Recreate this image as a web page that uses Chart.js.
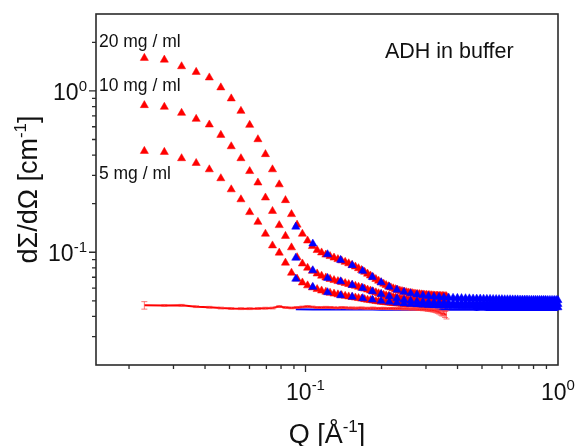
<!DOCTYPE html>
<html><head><meta charset="utf-8">
<script src="https://cdn.jsdelivr.net/npm/chart.js@4"></script>
<style>html,body{margin:0;padding:0;background:#fff}canvas{display:block}</style>
</head><body>
<canvas id="c" width="577" height="446"></canvas>
<script>
// ---------- data ----------
const qRed = [0.0230,0.0276,0.0323,0.0369,0.0416,0.0462,0.0508,0.0555,0.0601,0.0648,
 0.0694,0.0740,0.0787,0.0833,0.0880,0.0926,0.0972,0.1019,0.1065,0.1112,
 0.1158,0.1204,0.1251,0.1297,0.1344,0.1390,0.1436,0.1483,0.1529,0.1576,
 0.1622,0.1668,0.1715,0.1761,0.1808,0.1854,0.1900,0.1947,0.1993,0.2040,
 0.2086,0.2132,0.2179,0.2225,0.2272,0.2318,0.2364,0.2411,0.2457,0.2504,
 0.2550,0.2596,0.2643,0.2689,0.2736,0.2782,0.2828,0.2875,0.2921,0.2968,
 0.3014,0.3060,0.3107,0.3153,0.3200,0.3246,0.3292,0.3339,0.3385,0.3432,
 0.3478,0.3524,0.3571,0.3617];
const i20Red = [1.60,1.56,1.42,1.31,1.21,1.05,0.897,0.751,0.615,0.501,
 0.405,0.326,0.263,0.210,0.172,0.148,0.130,0.118,0.109,0.103,
 0.0995,0.0965,0.0945,0.0925,0.0905,0.0888,0.0870,0.0852,0.0833,0.0814,
 0.0795,0.0775,0.0755,0.0735,0.0716,0.0698,0.0681,0.0665,0.0650,0.0637,
 0.0625,0.0614,0.0604,0.0596,0.0589,0.0583,0.0578,0.0573,0.0569,0.0565,
 0.0562,0.0559,0.0557,0.0554,0.0552,0.0550,0.0549,0.0547,0.0546,0.0544,
 0.0543,0.0542,0.0541,0.0540,0.0539,0.0538,0.0537,0.0537,0.0536,0.0535,
 0.0535,0.0534,0.0534,0.0533];
const i10Red = [0.815,0.796,0.730,0.670,0.618,0.533,0.453,0.382,0.318,0.270,
 0.218,0.180,0.147,0.126,0.107,0.093,0.085,0.0800,0.0765,0.0737,
 0.0714,0.0696,0.0682,0.0671,0.0661,0.0652,0.0643,0.0634,0.0626,0.0618,
 0.0610,0.0602,0.0594,0.0586,0.0578,0.0570,0.0563,0.0556,0.0550,0.0544,
 0.0539,0.0534,0.0530,0.0526,0.0522,0.0519,0.0516,0.0513,0.0511,0.0509,
 0.0507,0.0505,0.0504,0.0502,0.0501,0.0500,0.0499,0.0498,0.0497,0.0496,
 0.0496,0.0495,0.0495,0.0494,0.0494,0.0493,0.0493,0.0492,0.0492,0.0491,
 0.0491,0.0490,0.0490,0.0489];
const i5Red = [0.424,0.418,0.382,0.357,0.326,0.287,0.245,0.2125,0.177,0.154,
 0.130,0.110,0.0992,0.0860,0.0745,0.0685,0.0648,0.0622,0.0604,0.0590,
 0.0578,0.0568,0.0560,0.0553,0.0547,0.0541,0.0536,0.0531,0.0527,0.0523,
 0.0519,0.0515,0.0511,0.0507,0.0504,0.0501,0.0498,0.0495,0.0493,0.0491,
 0.0489,0.0487,0.0485,0.0484,0.0482,0.0481,0.0480,0.0479,0.0478,0.0477,
 0.0476,0.0476,0.0475,0.0474,0.0474,0.0473,0.0473,0.0472,0.0472,0.0471,
 0.0471,0.0470,0.0470,0.0470,0.0469,0.0469,0.0469,0.0468,0.0468,0.0468,
 0.0467,0.0467,0.0467,0.0466];
const iBufRed = [0.0469,0.0468,0.0469,0.0460,0.0456,0.0451,0.0448,0.0447,0.0447,0.0448,
 0.0450,0.0451,0.0461,0.0455,0.0452,0.0455,0.0458,0.0461,0.0458,0.0455,
 0.0454,0.0456,0.0455,0.0453,0.0452,0.0454,0.0453,0.0451,0.0452,0.0450,
 0.0451,0.0452,0.0450,0.0449,0.0450,0.0451,0.0449,0.0448,0.0449,0.0450,
 0.0448,0.0447,0.0449,0.0448,0.0446,0.0447,0.0448,0.0446,0.0445,0.0447,
 0.0446,0.0444,0.0445,0.0446,0.0443,0.0444,0.0442,0.0443,0.0441,0.0442,
 0.0440,0.0438,0.0439,0.0436,0.0436,0.0434,0.0432,0.0428,0.0425,0.0420,
 0.0415,0.0418,0.0412,0.0410];
const errBufRed = [0.0025,0.0006,0.0006,0.0006,0.0006,0.0006,0.0006,0.0006,0.0006,0.0006,
 0.0006,0.0006,0.0006,0.0006,0.0006,0.0006,0.0006,0.0006,0.0006,0.0006,
 0.0006,0.0006,0.0006,0.0006,0.0006,0.0006,0.0006,0.0006,0.0006,0.0006,
 0.0006,0.0006,0.0006,0.0006,0.0006,0.0006,0.0006,0.0006,0.0006,0.0006,
 0.0006,0.0006,0.0006,0.0006,0.0006,0.0006,0.0006,0.0006,0.0006,0.0006,
 0.0006,0.0006,0.0006,0.0006,0.0006,0.0006,0.0006,0.0006,0.0007,0.0007,
 0.0007,0.0008,0.0008,0.0008,0.0009,0.0009,0.0010,0.0010,0.0011,0.0012,
 0.0012,0.0015,0.0018,0.0024];

const qBlue = [0.0915,0.1069,0.1223,0.1377,0.1531,0.1685,0.1839,0.1993,0.2147,0.2301,
 0.2455,0.2609,0.2763,0.2917,0.3071,0.3225,0.3379,0.3533,0.3687,0.3841,
 0.3995,0.4149,0.4303,0.4457,0.4611,0.4765,0.4919,0.5073,0.5227,0.5381,
 0.5535,0.5689,0.5843,0.5997,0.6151,0.6305,0.6459,0.6613,0.6767,0.6921,
 0.7075,0.7229,0.7383,0.7537,0.7691,0.7845,0.7999,0.8153,0.8307,0.8461,
 0.8615,0.8769,0.8923,0.9077,0.9231,0.9385,0.9539,0.9693,0.9847,1.0000];
const i20Blue = [0.1438,0.1130,0.0970,0.0895,0.0830,0.0765,0.0702,0.0650,0.0610,0.0585,
 0.0567,0.0555,0.0546,0.0540,0.0535,0.0531,0.0528,0.0525,0.0523,0.0521,
 0.0520,0.0519,0.0518,0.0517,0.0516,0.0515,0.0515,0.0514,0.0513,0.0513,
 0.0512,0.0512,0.0511,0.0511,0.0510,0.0510,0.0510,0.0509,0.0509,0.0509,
 0.0508,0.0508,0.0508,0.0508,0.0507,0.0507,0.0507,0.0507,0.0506,0.0506,
 0.0506,0.0506,0.0506,0.0505,0.0505,0.0505,0.0505,0.0505,0.0505,0.0504];
const i10Blue = [0.0923,0.0772,0.0692,0.0659,0.0626,0.0599,0.0572,0.0550,0.0533,0.0518,
 0.0507,0.0500,0.0495,0.0492,0.0490,0.0488,0.0487,0.0486,0.0485,0.0484,
 0.0484,0.0483,0.0483,0.0482,0.0482,0.0482,0.0481,0.0481,0.0481,0.0481,
 0.0480,0.0480,0.0480,0.0480,0.0480,0.0479,0.0479,0.0479,0.0479,0.0479,
 0.0479,0.0479,0.0478,0.0478,0.0478,0.0478,0.0478,0.0478,0.0478,0.0478,
 0.0477,0.0477,0.0477,0.0477,0.0477,0.0477,0.0477,0.0477,0.0477,0.0477];
const i5Blue = [0.0684,0.0609,0.0564,0.0540,0.0529,0.0518,0.0508,0.0499,0.0492,0.0486,
 0.0481,0.0477,0.0474,0.0471,0.0469,0.0467,0.0466,0.0465,0.0464,0.0463,
 0.0463,0.0462,0.0462,0.0461,0.0461,0.0460,0.0460,0.0460,0.0459,0.0459,
 0.0459,0.0459,0.0458,0.0458,0.0458,0.0458,0.0458,0.0457,0.0457,0.0457,
 0.0457,0.0457,0.0457,0.0456,0.0456,0.0456,0.0456,0.0456,0.0456,0.0456,
 0.0456,0.0455,0.0455,0.0455,0.0455,0.0455,0.0455,0.0455,0.0455,0.0455];
const iBufBlue = [0.0443,0.0442,0.0442,0.0441,0.0441,0.0442,0.0441,0.0440,0.0440,0.0440,
 0.0440,0.0440,0.0440,0.0440,0.0440,0.0440,0.0440,0.0440,0.0440,0.0440,
 0.0440,0.0440,0.0440,0.0440,0.0440,0.0439,0.0440,0.0440,0.0439,0.0439,
 0.0440,0.0439,0.0439,0.0439,0.0440,0.0439,0.0439,0.0439,0.0439,0.0439,
 0.0439,0.0439,0.0439,0.0439,0.0439,0.0439,0.0439,0.0439,0.0439,0.0439,
 0.0439,0.0439,0.0439,0.0439,0.0439,0.0439,0.0439,0.0439,0.0439,0.0439];

const xTickLabels = [{v:0.1, base:'10', sup:'-1'}, {v:1, base:'10', sup:'0'}];
const yTickLabels = [{v:0.1, base:'10', sup:'-1'}, {v:1, base:'10', sup:'0'}];
const notes = [
  {text:'20 mg / ml', q:0.0152, i:1.87, size:17.5},
  {text:'10 mg / ml', q:0.0152, i:0.998, size:17.5},
  {text:'5 mg / ml',  q:0.0152, i:0.283, size:17.5},
  {text:'ADH in buffer', q:0.2064, i:1.59, size:21.5}
];

// ---------- drawing helpers ----------
const FONT = '"Liberation Sans", Arial, Helvetica, sans-serif';
function drawSegs(ctx, segs, x, y, align) {
  let total = 0;
  segs.forEach(s => { ctx.font = s.size + 'px ' + FONT; s.w = ctx.measureText(s.t).width; total += s.w; });
  let cx = align === 'right' ? x - total : align === 'center' ? x - total / 2 : x;
  ctx.textAlign = 'left'; ctx.textBaseline = 'alphabetic';
  segs.forEach(s => { ctx.font = s.size + 'px ' + FONT; ctx.fillText(s.t, cx, y - (s.rise || 0)); cx += s.w; });
}
function logTicks(min, max) {
  const out = [];
  for (let e = Math.floor(Math.log10(min)); e <= Math.ceil(Math.log10(max)); e++) {
    for (let m = 1; m <= 9; m++) {
      const v = m * Math.pow(10, e);
      if (v >= min * 1.0001 && v <= max * 1.0001) out.push({v, major: m === 1});
    }
  }
  return out;
}

const decor = {
  id: 'decor',
  beforeDatasetsDraw(chart) {
    const {ctx, chartArea: a, scales: {x, y}} = chart;
    ctx.save();
    ctx.strokeStyle = '#2b2b2b'; ctx.lineWidth = 1.6;
    ctx.strokeRect(a.left, a.top, a.right - a.left, a.bottom - a.top);
    ctx.lineWidth = 1.3;
    ctx.beginPath();
    logTicks(x.min, x.max).forEach(t => {
      const px = x.getPixelForValue(t.v);
      if (px < a.left + 1 || px > a.right - 1) return;
      ctx.moveTo(px, a.bottom); ctx.lineTo(px, a.bottom + (t.major ? 7 : 4));
    });
    logTicks(y.min, y.max).forEach(t => {
      const py = y.getPixelForValue(t.v);
      if (py < a.top + 1 || py > a.bottom - 1) return;
      ctx.moveTo(a.left, py); ctx.lineTo(a.left - (t.major ? 7 : 4), py);
    });
    ctx.stroke();
    ctx.fillStyle = '#111';
    xTickLabels.forEach(t => {
      drawSegs(ctx, [{t: t.base, size: 23}, {t: t.sup, size: 15, rise: 10}], x.getPixelForValue(t.v), 400, 'center');
    });
    yTickLabels.forEach(t => {
      drawSegs(ctx, [{t: t.base, size: 23}, {t: t.sup, size: 15, rise: 9}], 87, y.getPixelForValue(t.v) + 9, 'right');
    });
    // axis titles
    drawSegs(ctx, [{t: 'Q [Å', size: 27}, {t: '-1', size: 17, rise: 11}, {t: ']', size: 27}], (a.left + a.right) / 2, 443, 'center');
    ctx.save();
    ctx.translate(37, (a.top + a.bottom) / 2);
    ctx.rotate(-Math.PI / 2);
    drawSegs(ctx, [{t: 'dΣ/dΩ [cm', size: 27}, {t: '-1', size: 17, rise: 11}, {t: ']', size: 27}], 0, 0, 'center');
    ctx.restore();
    // annotations
    notes.forEach(n => {
      ctx.font = n.size + 'px ' + FONT;
      ctx.textAlign = 'left'; ctx.textBaseline = 'alphabetic';
      ctx.fillText(n.text, x.getPixelForValue(n.q), y.getPixelForValue(n.i));
    });
    ctx.restore();
  },
  afterDatasetsDraw(chart) {
    const {ctx, scales: {x, y}} = chart;
    chart.data.datasets.forEach(ds => {
      if (!ds.errors) return;
      ctx.save();
      ctx.strokeStyle = 'rgba(255,60,60,0.7)'; ctx.lineWidth = 1;
      ctx.beginPath();
      ds.data.forEach((p, i) => {
        const e = ds.errors[i]; if (!e) return;
        const px = x.getPixelForValue(p.x);
        const y1 = y.getPixelForValue(p.y + e), y2 = y.getPixelForValue(p.y - e);
        ctx.moveTo(px, y1); ctx.lineTo(px, y2);
        ctx.moveTo(px - 3, y1); ctx.lineTo(px + 3, y1);
        ctx.moveTo(px - 3, y2); ctx.lineTo(px + 3, y2);
      });
      ctx.stroke();
      ctx.restore();
    });
  }
};

const pts = (qs, vs) => qs.map((q, k) => ({x: q, y: vs[k]}));
const tri = (label, qs, vs, col) => ({label, data: pts(qs, vs), pointStyle: 'triangle', pointRadius: 4.7,
  backgroundColor: col, borderColor: col, borderWidth: 0.5, showLine: false, clip: false});

new Chart(document.getElementById('c'), {
  type: 'scatter',
  data: {datasets: [
    tri('20 mg/ml B', qBlue, i20Blue, '#0000ff'),
    tri('10 mg/ml B', qBlue, i10Blue, '#0000ff'),
    tri('5 mg/ml B', qBlue, i5Blue, '#0000ff'),
    tri('20 mg/ml A', qRed, i20Red, '#ff0000'),
    tri('10 mg/ml A', qRed, i10Red, '#ff0000'),
    tri('5 mg/ml A', qRed, i5Red, '#ff0000'),
    {label: 'buffer A', data: pts(qRed, iBufRed), errors: errBufRed, showLine: true, borderColor: '#ff0000', borderWidth: 2, pointRadius: 0, clip: false},
    {label: 'buffer B', data: pts(qBlue, iBufBlue), showLine: true, borderColor: '#0000ff', borderWidth: 2, pointRadius: 0, clip: false}
  ]},
  options: {
    responsive: false, animation: false, devicePixelRatio: 1,
    layout: {padding: {left: 0, top: 14, right: 19, bottom: 0}},
    plugins: {legend: {display: false}, tooltip: {enabled: false}},
    scales: {
      x: {type: 'logarithmic', min: 0.0148, max: 1, ticks: {display: false}, grid: {display: false}, border: {display: false},
          afterFit: s => { s.height = 81; }},
      y: {type: 'logarithmic', min: 0.02, max: 3, ticks: {display: false}, grid: {display: false}, border: {display: false},
          afterFit: s => { s.width = 96; }}
    }
  },
  plugins: [decor]
});
</script>
</body></html>
